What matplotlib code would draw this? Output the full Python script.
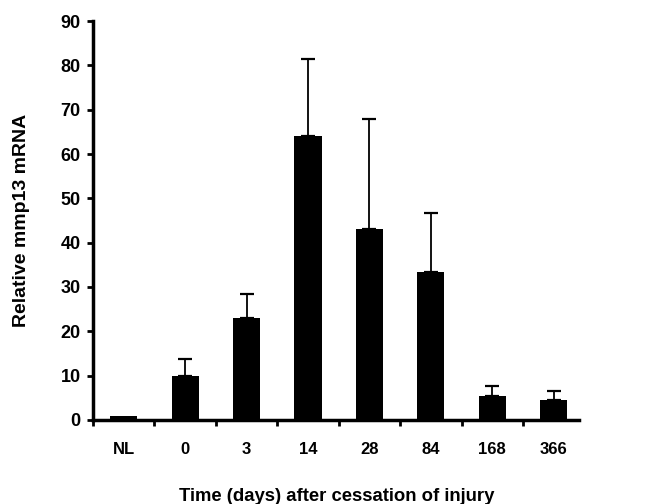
import matplotlib
matplotlib.use("Agg")
import matplotlib.pyplot as plt
import numpy as np

# data
groups = ["NL", "0", "3", "14", "28", "84", "168", "366"]
means = [0.8, 9.8, 23.0, 64.0, 43.0, 33.3, 5.4, 4.5]
upper_err = [0.0, 3.9, 5.5, 17.5, 25.0, 13.4, 2.2, 2.0]

plt.rcParams['font.family'] = ['Liberation Sans', 'DejaVu Sans']
plt.rcParams['font.weight'] = 'bold'

fig = plt.figure(figsize=(6.46, 5.04), dpi=100)
ax = fig.add_axes([0.144, 0.167, 0.753, 0.791])

x = np.arange(len(groups))
ax.bar(x, means, width=0.44, color='black')
ax.errorbar(x[1:], means[1:], yerr=[np.zeros(len(x) - 1), upper_err[1:]],
            fmt='none', ecolor='black', elinewidth=1.3, capsize=4.8, capthick=1.6)

ax.set_xlim(-0.5, len(groups) - 0.58)
ax.set_ylim(0, 90)
ax.set_yticks(np.arange(0, 91, 10))
ax.set_xticks(np.arange(-0.5, len(groups) - 1, 1.0))
ax.set_xticklabels([])
ax.set_xticks(x, minor=True)
ax.set_xticklabels(groups, minor=True, fontsize=12, fontweight='bold')
ax.tick_params(axis='x', which='minor', length=0, pad=16)
ax.tick_params(axis='x', which='major', length=4, width=2, direction='out')
ax.tick_params(axis='y', length=4, width=2, labelsize=13, pad=5)
for lab in ax.get_yticklabels():
    lab.set_fontweight('bold')

for side in ['top', 'right']:
    ax.spines[side].set_visible(False)
for side in ['left', 'bottom']:
    ax.spines[side].set_linewidth(2.5)

ax.set_ylabel('Relative mmp13 mRNA', fontsize=14, fontweight='bold', labelpad=22)
ax.set_xlabel('Time (days) after cessation of injury', fontsize=13.3,
              fontweight='bold', labelpad=22)

fig.savefig('out.png', dpi=100)
